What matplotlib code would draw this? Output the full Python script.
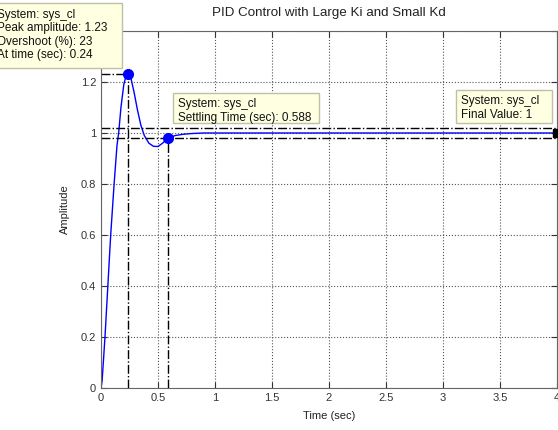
import matplotlib.pyplot as plt
from matplotlib.patches import Rectangle

plt.rcParams["font.family"] = ["Liberation Sans", "DejaVu Sans"]
plt.rcParams["font.size"] = 8

# step response of sys_cl
t = [0, 0.01, 0.035, 0.06, 0.085, 0.115, 0.14, 0.155, 0.175, 0.2, 0.22, 0.24,
     0.26, 0.29, 0.32, 0.35, 0.38, 0.42, 0.46, 0.5, 0.54, 0.588, 0.65, 0.72,
     0.8, 0.9, 1.0, 1.2, 1.5, 2.0, 2.5, 3.0, 3.5, 4.0]
y = [0, 0.03, 0.2, 0.4, 0.6, 0.8, 0.95, 1.0, 1.1, 1.19, 1.225, 1.233,
     1.22, 1.16, 1.09, 1.03, 0.99, 0.96, 0.948, 0.947, 0.96, 0.98, 0.99, 0.995,
     0.998, 1.0, 1.0, 1.0, 1.0, 1.0, 1.0, 1.0, 1.0, 1.0]

peak_amp = 1.23
peak_time = 0.24
overshoot = 23
settling_time = 0.588
settling_amp = 0.98
final_value = 1
band = [0.98, 1.02]

xticks = [0, 0.5, 1, 1.5, 2, 2.5, 3, 3.5, 4]
xticklabels = ["0", "0.5", "1", "1.5", "2", "2.5", "3", "3.5", "4"]
yticks = [0, 0.2, 0.4, 0.6, 0.8, 1.0, 1.2, 1.4]
yticklabels = ["0", "0.2", "0.4", "0.6", "0.8", "1", "1.2", ""]  # 1.4 sits under the datatip

W, H = 558, 430
fig = plt.figure(figsize=(W / 100, H / 100), dpi=100)
ax = fig.add_axes([101 / W, 1 - 388 / H, 456 / W, 357 / H])

ax.plot(t, y, color="blue", lw=1)

# characteristic lines
for b in band:
    ax.axhline(b, color="black", ls="-.", lw=1)
ax.plot([0, peak_time], [peak_amp, peak_amp], color="black", ls="-.", lw=1)
ax.plot([peak_time, peak_time], [0, peak_amp], color="black", ls="-.", lw=1)
ax.plot([settling_time, settling_time], [0, settling_amp], color="black", ls="-.", lw=1)

ax.plot([peak_time], [peak_amp], "o", color="blue", ms=7, zorder=5)
ax.plot([settling_time], [settling_amp], "o", color="blue", ms=7, zorder=5)
ax.plot([4], [final_value], "s", color="black", ms=6, clip_on=False, zorder=5)

ax.set_xlim(0, 4)
ax.set_ylim(0, 1.4)
ax.set_xticks(xticks)
ax.set_xticklabels(xticklabels)
ax.set_yticks(yticks)
ax.set_yticklabels(yticklabels)
ax.grid(True, ls=":", color="#555555", lw=0.8)
ax.tick_params(direction="in", top=True, right=True, length=4, colors="#333333",
               labelsize=8)
for s in ax.spines.values():
    s.set_color("#666666")

ax.set_xlabel("Time (sec)", color="#222222", labelpad=6)
ax.set_ylabel("Amplitude", color="#222222", labelpad=8)
ax.set_title("PID Control with Large Ki and Small Kd", color="#222222", pad=11)


def tip(x0, y0, x1, y1, lines, tx, ty0, dy):
    fig.patches.append(Rectangle((x0 / W, 1 - y1 / H), (x1 - x0) / W, (y1 - y0) / H,
                                 transform=fig.transFigure, facecolor="#ffffe1",
                                 edgecolor="#c0c0a8", lw=1, zorder=10))
    for i, s in enumerate(lines):
        fig.text(tx / W, 1 - (ty0 + i * dy) / H, s, ha="left", va="center",
                 fontsize=8.5, color="#111111", zorder=11)


tip(-5, 3, 122, 68,
    ["System: sys_cl", f"Peak amplitude: {peak_amp}",
     f"Overshoot (%): {overshoot}", f"At time (sec): {peak_time}"],
    -3, 15, 13.3)
tip(173, 93, 319, 123,
    ["System: sys_cl", f"Settling Time (sec): {settling_time}"],
    178, 104, 14)
tip(456, 90, 552, 123,
    ["System: sys_cl", f"Final Value: {final_value}"],
    461, 101, 14)

fig.savefig("out.png", dpi=100)
